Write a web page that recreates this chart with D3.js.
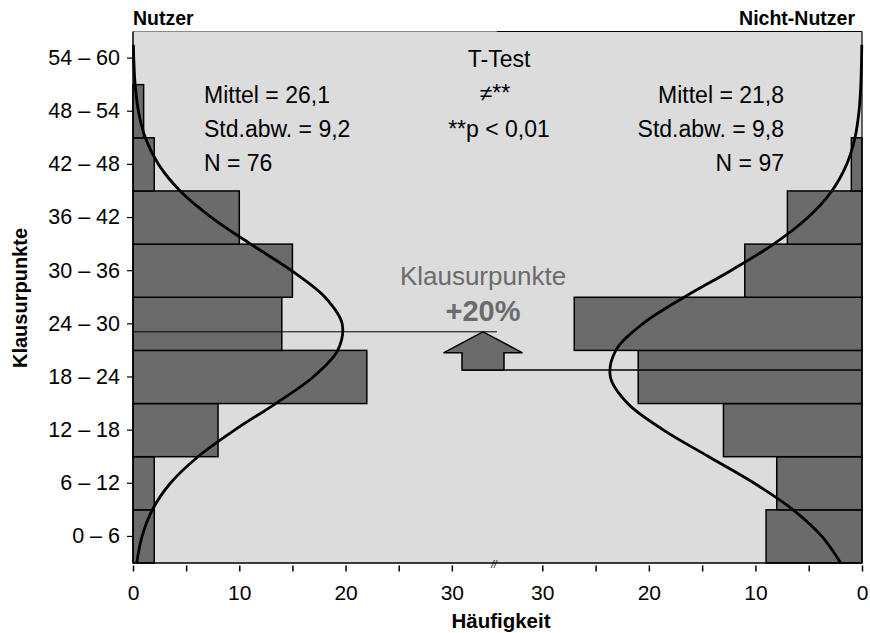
<!DOCTYPE html>
<html>
<head>
<meta charset="utf-8">
<script src="https://cdn.jsdelivr.net/npm/d3@7"></script>
<style>
  body { margin: 0; background: #fff; }
  svg text { font-family: "Liberation Sans", Arial, sans-serif; }
</style>
</head>
<body>
<svg id="chart" width="870" height="633"></svg>
<script>
// bins of exam points (bottom to top)
const categories = ["0 – 6", "6 – 12", "12 – 18", "18 – 24", "24 – 30",
                    "30 – 36", "36 – 42", "42 – 48", "48 – 54", "54 – 60"];
const nutzer      = [2, 2, 8, 22, 14, 15, 10, 2, 1, 0];
const nichtNutzer = [9, 8, 13, 21, 27, 11, 7, 1, 0, 0];

// fitted normal curves, read at every 3 points
const kurvePunkte      = [0, 3, 6, 9, 12, 15, 18, 21, 24, 27, 30, 33, 36, 39, 42, 45, 48, 51, 54, 57, 58.5];
const kurveNutzer      = [0.35, 0.85, 1.82, 3.51, 6.11, 9.55, 13.42, 16.95, 19.26, 19.68,
                          18.07, 14.92, 11.08, 7.40, 4.44, 2.40, 1.16, 0.51, 0.20, 0.07, 0.04];
const kurveNichtNutzer = [2.00, 3.76, 6.46, 10.10, 14.37, 18.62, 21.98, 23.61, 23.10, 20.58,
                          16.69, 12.33, 8.29, 5.08, 2.83, 1.44, 0.66, 0.28, 0.11, 0.04, 0.02];

const mittelNutzer = 26.1;
const mittelNicht = 21.8;
const statsNutzer = ["Mittel = 26,1", "Std.abw. = 9,2", "N = 76"];
const statsNicht  = ["Mittel = 21,8", "Std.abw. = 9,8", "N = 97"];
const tTest = ["T-Test", "≠**", "**p < 0,01"];
const xTicks = [0, 5, 10, 15, 20, 25, 30];

const svg = d3.select('#chart');
const pL = 133, pR = 862, pT = 31.5, pB = 563, split = 497;
const xMax = 34.25;
const barFill = '#6b6b6b', bg = '#dcdcdc';

const xL = d3.scaleLinear().domain([0, xMax]).range([pL, split]);
const xR = d3.scaleLinear().domain([0, xMax]).range([pR, split]);
const yBand = d3.scaleBand().domain(categories).range([pB, pT]).padding(0);
const y = d3.scaleLinear().domain([0, 60]).range([pB, pT]);

// panel background
svg.append('rect')
  .attr('x', pL).attr('y', pT)
  .attr('width', pR - pL).attr('height', pB - pT)
  .attr('fill', bg);

// bars
svg.append('g').selectAll('rect')
  .data(nutzer)
  .join('rect')
    .attr('x', xL(0))
    .attr('y', (d, i) => yBand(categories[i]))
    .attr('width', d => xL(d) - xL(0))
    .attr('height', yBand.bandwidth())
    .attr('fill', barFill)
    .attr('stroke', d => d ? '#000' : 'none')
    .attr('stroke-width', 1.5);

svg.append('g').selectAll('rect')
  .data(nichtNutzer)
  .join('rect')
    .attr('x', d => xR(d))
    .attr('y', (d, i) => yBand(categories[i]))
    .attr('width', d => xR(0) - xR(d))
    .attr('height', yBand.bandwidth())
    .attr('fill', barFill)
    .attr('stroke', d => d ? '#000' : 'none')
    .attr('stroke-width', 1.5);

// mean lines
svg.append('line')
  .attr('x1', pL).attr('x2', split)
  .attr('y1', y(mittelNutzer)).attr('y2', y(mittelNutzer))
  .attr('stroke', '#000').attr('stroke-width', 1);

// arrow between the means
const ax = 483, headW = 39.5, shaftW = 21;
const tipY = y(mittelNutzer), baseY = y(mittelNicht), headY = tipY + 21;
svg.append('line')
  .attr('x1', ax - shaftW).attr('x2', pR)
  .attr('y1', baseY).attr('y2', baseY)
  .attr('stroke', '#000').attr('stroke-width', 1.5);
svg.append('polygon')
  .attr('points', [
    [ax, tipY], [ax + headW, headY], [ax + shaftW, headY], [ax + shaftW, baseY],
    [ax - shaftW, baseY], [ax - shaftW, headY], [ax - headW, headY]
  ].map(p => p.join(',')).join(' '))
  .attr('fill', barFill).attr('stroke', '#000').attr('stroke-width', 1.5);

// normal curves
const lineL = d3.line()
  .x(d => xL(d[1])).y(d => y(d[0]))
  .curve(d3.curveCatmullRom.alpha(0.5));
const lineR = d3.line()
  .x(d => xR(d[1])).y(d => y(d[0]))
  .curve(d3.curveCatmullRom.alpha(0.5));

svg.append('path')
  .datum(kurvePunkte.map((p, i) => [p, kurveNutzer[i]]))
  .attr('d', lineL)
  .attr('fill', 'none').attr('stroke', '#000').attr('stroke-width', 2.8);
svg.append('path')
  .datum(kurvePunkte.map((p, i) => [p, kurveNichtNutzer[i]]))
  .attr('d', lineR)
  .attr('fill', 'none').attr('stroke', '#000').attr('stroke-width', 2.8);

// frame
svg.append('line').attr('x1', pL).attr('x2', split).attr('y1', pT).attr('y2', pT)
  .attr('stroke', '#8a8a8a').attr('stroke-width', 1);
svg.append('line').attr('x1', split).attr('x2', pR).attr('y1', pT).attr('y2', pT)
  .attr('stroke', '#000').attr('stroke-width', 1.2);
svg.append('line').attr('x1', pR).attr('x2', pR).attr('y1', pT).attr('y2', pB)
  .attr('stroke', '#000').attr('stroke-width', 1.2);
svg.append('line').attr('x1', pL).attr('x2', pL).attr('y1', pT).attr('y2', pB)
  .attr('stroke', '#000').attr('stroke-width', 1.5);
svg.append('line').attr('x1', pL).attr('x2', pR).attr('y1', pB).attr('y2', pB)
  .attr('stroke', '#000').attr('stroke-width', 1.5);

// axes
const yAxis = svg.append('g')
  .attr('transform', `translate(${pL},0)`)
  .call(d3.axisLeft(yBand).tickSize(6).tickPadding(7));
yAxis.select('.domain').remove();
yAxis.selectAll('text').attr('font-size', 21.5).attr('fill', '#000');
yAxis.selectAll('line').attr('stroke-width', 1.2);

function bottomAxis(scale){
  const g = svg.append('g')
    .attr('transform', `translate(0,${pB + 2.5})`)
    .call(d3.axisBottom(scale).tickValues(xTicks)
      .tickFormat(d => d % 10 === 0 ? d : '')
      .tickSize(6).tickPadding(14));
  g.select('.domain').remove();
  g.selectAll('text').attr('font-size', 21).attr('fill', '#000');
  g.selectAll('line').attr('stroke-width', 1.5);
}
bottomAxis(xL);
bottomAxis(xR);

// axis break mark
svg.append('text')
  .attr('x', 494).attr('y', 568)
  .attr('text-anchor', 'middle')
  .attr('font-size', 10).attr('font-style', 'italic')
  .text('//');

// titles
svg.append('text').attr('x', pL).attr('y', 25)
  .attr('font-size', 19.5).attr('font-weight', 'bold').text('Nutzer');
svg.append('text').attr('x', 855).attr('y', 25)
  .attr('text-anchor', 'end')
  .attr('font-size', 19.5).attr('font-weight', 'bold').text('Nicht-Nutzer');
svg.append('text').attr('x', 501).attr('y', 628)
  .attr('text-anchor', 'middle')
  .attr('font-size', 20.5).attr('font-weight', 'bold').text('Häufigkeit');
svg.append('text')
  .attr('transform', 'translate(27,298) rotate(-90)')
  .attr('text-anchor', 'middle')
  .attr('font-size', 20).attr('font-weight', 'bold').text('Klausurpunkte');

// statistics
const rowY = [102.5, 137, 170.5];
svg.append('g').selectAll('text')
  .data(statsNutzer)
  .join('text')
    .attr('x', 204).attr('y', (d, i) => rowY[i])
    .attr('font-size', 23).text(d => d);
svg.append('g').selectAll('text')
  .data(statsNicht)
  .join('text')
    .attr('x', 784).attr('y', (d, i) => rowY[i])
    .attr('text-anchor', 'end')
    .attr('font-size', 23).text(d => d);
svg.append('g').selectAll('text')
  .data(tTest)
  .join('text')
    .attr('x', (d, i) => i === 1 ? 495 : 499)
    .attr('y', (d, i) => [67, 101, 137][i])
    .attr('text-anchor', 'middle')
    .attr('font-size', 23).text(d => d);

// annotation
svg.append('text').attr('x', 483).attr('y', 285)
  .attr('text-anchor', 'middle').attr('fill', '#6b6b6b')
  .attr('font-size', 26).text('Klausurpunkte');
svg.append('text').attr('x', 483).attr('y', 320.5)
  .attr('text-anchor', 'middle').attr('fill', '#6b6b6b')
  .attr('font-size', 29).attr('font-weight', 'bold').text('+20%');
</script>
</body>
</html>
